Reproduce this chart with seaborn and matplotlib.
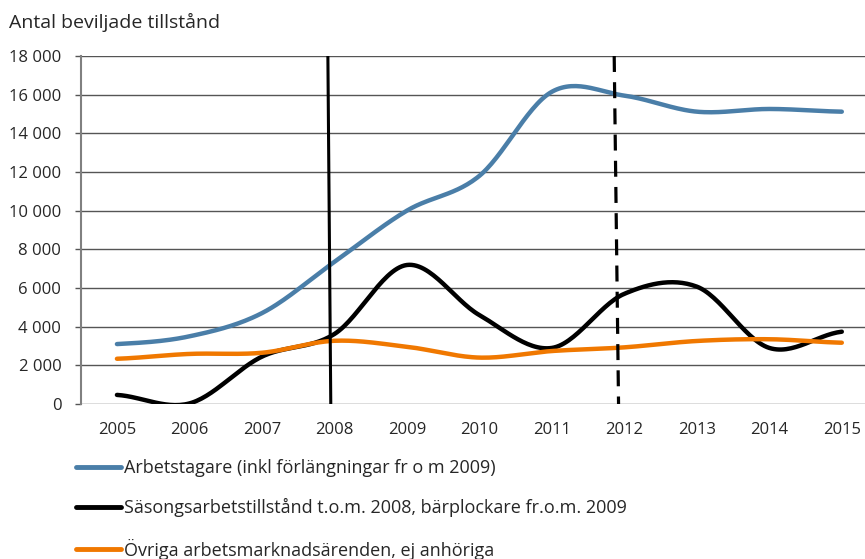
import numpy as np
import pandas as pd
import matplotlib
matplotlib.use('Agg')
import matplotlib.pyplot as plt
import seaborn as sns

# values
years = [2005, 2006, 2007, 2008, 2009, 2010, 2011, 2012, 2013, 2014, 2015]
arbetstagare = [3100, 3500, 4700, 7350, 10000, 11800, 16150, 15950, 15120, 15260, 15120]
sasong = [470, 30, 2450, 3620, 7190, 4600, 2900, 5700, 6070, 2900, 3740]
ovriga = [2340, 2590, 2650, 3270, 2960, 2400, 2740, 2930, 3260, 3350, 3170]

labels = ['Arbetstagare (inkl förlängningar fr o m 2009)',
          'Säsongsarbetstillstånd t.o.m. 2008, bärplockare fr.o.m. 2009',
          'Övriga arbetsmarknadsärenden, ej anhöriga']
colors = ['#4a7ea8', '#000000', '#f07800']


def smooth(x, y, n=30):
    # Excel-style smoothed line (Catmull-Rom between the data points)
    x = np.asarray(x, float)
    y = np.asarray(y, float)
    px = np.concatenate([[2 * x[0] - x[1]], x, [2 * x[-1] - x[-2]]])
    py = np.concatenate([[y[0]], y, [y[-1]]])
    xs, ys = [], []
    t = np.linspace(0, 1, n, endpoint=False)
    for i in range(1, len(px) - 2):
        for p, out in ((px, xs), (py, ys)):
            p0, p1, p2, p3 = p[i - 1], p[i], p[i + 1], p[i + 2]
            out.extend(0.5 * (2 * p1 + (-p0 + p2) * t + (2 * p0 - 5 * p1 + 4 * p2 - p3) * t ** 2
                              + (-p0 + 3 * p1 - 3 * p2 + p3) * t ** 3))
    xs.append(x[-1])
    ys.append(y[-1])
    return xs, ys


frames = []
for lab, vals in zip(labels, [arbetstagare, sasong, ovriga]):
    sx, sy = smooth(years, vals)
    frames.append(pd.DataFrame({'year': sx, 'value': sy, 'serie': lab}))
df = pd.concat(frames, ignore_index=True)

sns.set_style('white')
plt.rcParams['font.family'] = ['Open Sans', 'DejaVu Sans']

fig = plt.figure(figsize=(8.65, 5.59), dpi=100)
ax = fig.add_axes([80.7 / 865, 1 - 404 / 559, 1 - 80.7 / 865, 348 / 559])

sns.lineplot(data=df, x='year', y='value', hue='serie', palette=colors,
             hue_order=labels, sort=False, linewidth=3.2, ax=ax, legend=False)

# reform markers
ax.plot([2007.91, 2007.95], [18000, 0], color='black', lw=2.2, solid_capstyle='butt')
ax.plot([2011.86, 2011.92], [18000, 0], color='black', lw=2.3, dashes=(5, 3.2))

ax.set_xlim(2004.5, 2015.32)
ax.set_ylim(0, 18000)
ax.set_yticks(range(0, 18001, 2000))
ax.set_yticklabels([f'{v:,}'.replace(',', ' ') for v in range(0, 18001, 2000)])
ax.set_xticks(years)
ax.set_xticklabels([str(y) for y in years])
ax.yaxis.grid(True, color='#555555', lw=1)
ax.set_axisbelow(True)
ax.tick_params(axis='y', length=4, width=1, color='#555555', pad=10, labelsize=12, left=True)
ax.tick_params(axis='x', length=0, pad=13, labelsize=12)
for s in ['top', 'right', 'bottom']:
    ax.spines[s].set_visible(False)
ax.spines['left'].set_color('#808080')
ax.spines['left'].set_linewidth(1.5)
ax.set_xlabel('')
ax.set_ylabel('')

fig.text(9 / 865, 1 - 22 / 559, 'Antal beviljade tillstånd', fontsize=14, va='center', ha='left')

handles = [plt.Line2D([], [], color=c, lw=3.5) for c in colors]
fig.legend(handles, labels, loc='upper left', bbox_to_anchor=(76 / 865, 1 - 459 / 559),
           frameon=False, fontsize=13, handlelength=2.5, handletextpad=0.15,
           labelspacing=1.18, borderaxespad=0, borderpad=0)

fig.savefig('out.png', dpi=100)
